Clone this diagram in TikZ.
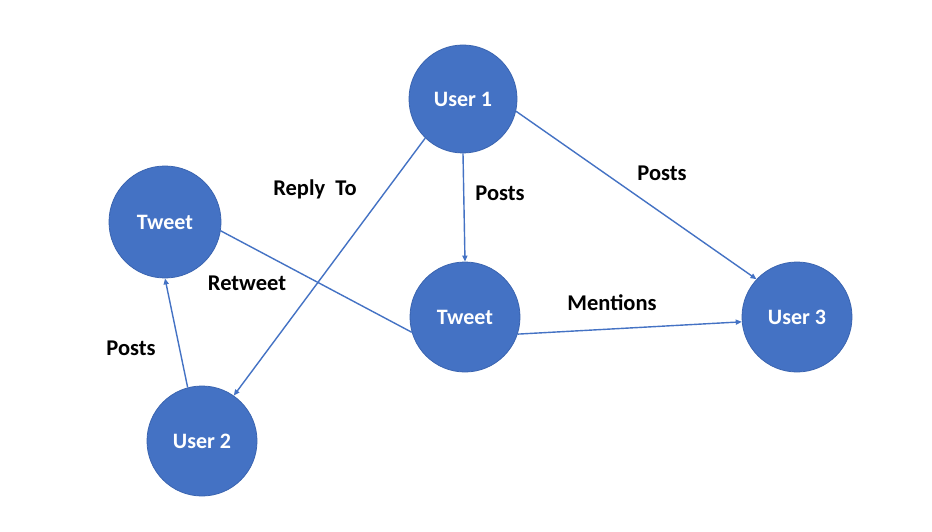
\documentclass[tikz,border=0pt]{standalone}
\usepackage{fontspec}
\setmainfont{Carlito}
\usetikzlibrary{arrows.meta}
\definecolor{nodeblue}{HTML}{4472C4}
\definecolor{nodeedge}{HTML}{3A64B0}
\begin{document}
\begin{tikzpicture}[x=1pt,y=-1pt,
  circ/.style={circle,fill=nodeblue,draw=nodeedge,line width=0.8pt,minimum size=110pt,inner sep=0pt,
    text=white,font=\fontsize{22}{26}\selectfont\bfseries},
  lbl/.style={text=black,font=\fontsize{22.5}{26}\selectfont\bfseries,inner sep=0pt},
  conn/.style={draw=nodeblue,line width=1.4pt},
  arr/.style={conn,-{Triangle[length=6pt,width=5pt]}}]
\useasboundingbox[fill=white] (0,0) rectangle (932,532);
\node[circ,minimum size=108pt] (u1) at (463,99) {User 1};
\node[circ,minimum size=112pt] (tl) at (165,222) {Tweet};
\node[circ] (tm) at (465,317) {Tweet};
\node[circ] (u3) at (797,317) {User 3};
\node[circ] (u2) at (202,441) {User 2};
% edges
\draw[arr] (u1.-90) -- (tm.90);
\draw[arr] (u1.-13.5) -- (u3.137);
\draw[arr] (u1.226.5) -- (u2.55.7);
\draw[arr] (u2.105) -- (tl.-90);
\draw[conn] (tl.-9.3) -- (tm.196);
\draw[arr] (tm.-18) -- (u3.185);
% labels
\node[lbl] (lreply) at (315,189) {Reply\ \ To};
\node[lbl] (lposts1) at (500,193) {Posts};
\node[lbl] (lposts2) at (662,173) {Posts};
\node[lbl] (lretweet) at (247,283) {Retweet};
\node[lbl] (lmentions) at (612,303) {Mentions};
\node[lbl] (lposts3) at (131,348) {Posts};
\end{tikzpicture}
\end{document}
